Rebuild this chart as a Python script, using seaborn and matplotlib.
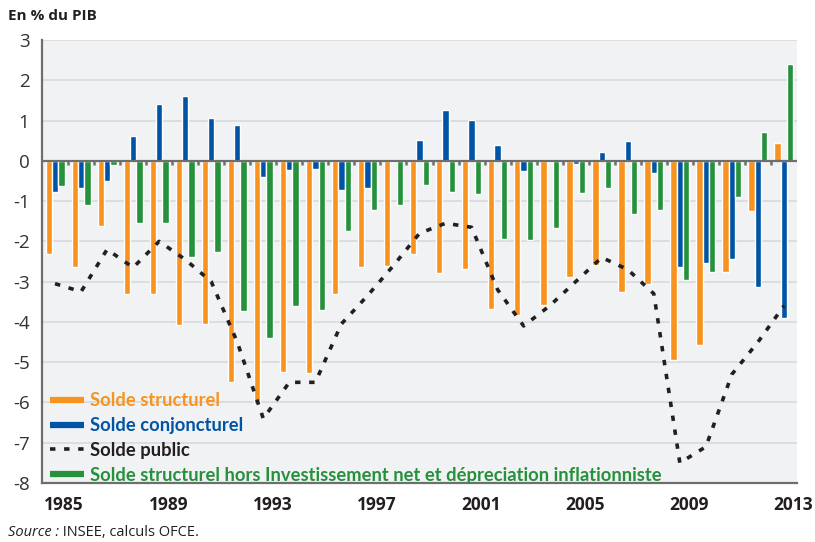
import numpy as np
import pandas as pd
import matplotlib
matplotlib.use("Agg")
import matplotlib.pyplot as plt
import seaborn as sns
from matplotlib.lines import Line2D

years = list(range(1985, 2014))
solde_structurel = [-2.31, -2.63, -1.61, -3.30, -3.30, -4.07, -4.04, -5.48, -6.05, -5.24,
                    -5.26, -3.30, -2.63, -2.60, -2.31, -2.78, -2.68, -3.67, -3.82, -3.57,
                    -2.88, -2.58, -3.25, -3.05, -4.94, -4.57, -2.75, -1.24, 0.44]
solde_conjoncturel = [-0.77, -0.67, -0.50, 0.61, 1.41, 1.61, 1.06, 0.89, -0.40, -0.22,
                      -0.20, -0.72, -0.67, -0.02, 0.51, 1.26, 1.01, 0.39, -0.25, -0.02,
                      -0.07, 0.22, 0.49, -0.30, -2.63, -2.53, -2.43, -3.13, -3.90]
solde_hors_inv = [-0.62, -1.09, -0.10, -1.55, -1.55, -2.38, -2.27, -3.72, -4.39, -3.60,
                  -3.70, -1.74, -1.22, -1.09, -0.60, -0.77, -0.82, -1.94, -1.96, -1.66,
                  -0.79, -0.67, -1.32, -1.22, -2.95, -2.75, -0.89, 0.71, 2.40]
solde_public = [-3.05, -3.25, -2.20, -2.65, -2.00, -2.45, -3.00, -4.50, -6.40, -5.50,
                -5.50, -4.05, -3.35, -2.60, -1.80, -1.55, -1.65, -3.20, -4.10, -3.60,
                -3.00, -2.40, -2.70, -3.30, -7.50, -7.10, -5.30, -4.50, -3.60]

series_names = ["Solde structurel", "Solde conjoncturel",
                "Solde structurel hors Investissement net et dépreciation inflationniste"]
legend_labels = ["Solde structurel", "Solde conjoncturel", "Solde public",
                 "Solde structurel hors Investissement net et dépreciation inflationniste"]
year_labels = ["1985", "1989", "1993", "1997", "2001", "2005", "2009", "2013"]

ORANGE = "#F7931E"
BLUE = "#0054A6"
GREEN = "#25913B"
BLACK = "#231F20"

df = pd.DataFrame({
    "year": years * 3,
    "serie": [series_names[0]] * len(years) + [series_names[1]] * len(years) + [series_names[2]] * len(years),
    "value": solde_structurel + solde_conjoncturel + solde_hors_inv,
})

sns.set_style("white")
plt.rcParams["font.family"] = ["Open Sans", "DejaVu Sans"]

fig = plt.figure(figsize=(8.15, 5.42), dpi=100)
ax = fig.add_axes([42 / 815, 1 - 483 / 542, 755 / 815, 443 / 542])
ax.set_facecolor("#F1F2F4")

sns.barplot(data=df, x="year", y="value", hue="serie", hue_order=series_names,
            palette=[ORANGE, BLUE, GREEN], saturation=1, width=0.73, dodge=True,
            legend=False, ax=ax, zorder=3)

idx = np.arange(len(years))
sns.lineplot(x=idx, y=solde_public, ax=ax, color=BLACK, lw=2.6,
             linestyle=(0, (1.5, 2.4)), zorder=5)

ax.set_xlim(-0.5, len(years) - 0.5)
ax.set_ylim(-8, 3)
ax.set_xlabel("")
ax.set_ylabel("")

# grid
ax.set_yticks(np.arange(-8, 4, 1))
ax.set_yticklabels([str(v) for v in range(-8, 4)], fontsize=13.5, color="#333333")
for v in range(-7, 4):
    if v != 0:
        ax.axhline(v, color="#D6D7D9", lw=1.1, zorder=1)
ax.axhline(0, color="#6E6E6E", lw=1.6, zorder=4)
ax.vlines(idx[1:] - 0.5, -0.11, 0, color="#6E6E6E", lw=1.8, zorder=4)

# x ticks: marks at period boundaries, labels offset
ax.set_xticks(idx[::4] - 0.5)
ax.set_xticklabels([""] * len(idx[::4]))
ax.set_xticks(idx[::4] + 0.35, minor=True)
ax.set_xticklabels(year_labels, minor=True, fontsize=12.5, fontweight="bold", color="#231F20")
ax.tick_params(axis="x", which="major", length=6, width=1.3, color="#6E6E6E", direction="out")
ax.tick_params(axis="x", which="minor", length=0, pad=9)
ax.tick_params(axis="y", length=5, width=1.3, color="#6E6E6E", direction="out", pad=4)

for s in ["top", "right"]:
    ax.spines[s].set_visible(False)
for s in ["left", "bottom"]:
    ax.spines[s].set_color("#6E6E6E")
    ax.spines[s].set_linewidth(1.6)

handles = [Line2D([], [], color=ORANGE, lw=4.5, solid_capstyle="butt"),
           Line2D([], [], color=BLUE, lw=4.5, solid_capstyle="butt"),
           Line2D([], [], color=BLACK, lw=2.6, linestyle=(0, (1.5, 2.4))),
           Line2D([], [], color=GREEN, lw=4.5, solid_capstyle="butt")]
leg = ax.legend(handles, legend_labels, loc="lower left", bbox_to_anchor=(-0.004, -0.026),
                frameon=False, prop={"family": ["Lato", "DejaVu Sans"], "weight": "bold", "size": 13.2},
                handlelength=1.85, handletextpad=0.35, labelspacing=0.42, borderaxespad=0.2)
for t, c in zip(leg.get_texts(), [ORANGE, BLUE, BLACK, GREEN]):
    t.set_color(c)
leg.set_zorder(6)

fig.text(8 / 815, 1 - 16 / 542, "En % du PIB", fontsize=11, fontweight="bold",
         color="#231F20", va="center", ha="left")
t1 = fig.text(8 / 815, 1 - 533 / 542, "Source :", fontsize=10.5, style="italic",
              color="#231F20", va="center", ha="left")
ax.annotate(" INSEE, calculs OFCE.", xy=(1, 0.5), xycoords=t1, va="center", ha="left",
            fontsize=10.5, color="#231F20", annotation_clip=False)

fig.savefig("out.png", dpi=100)
